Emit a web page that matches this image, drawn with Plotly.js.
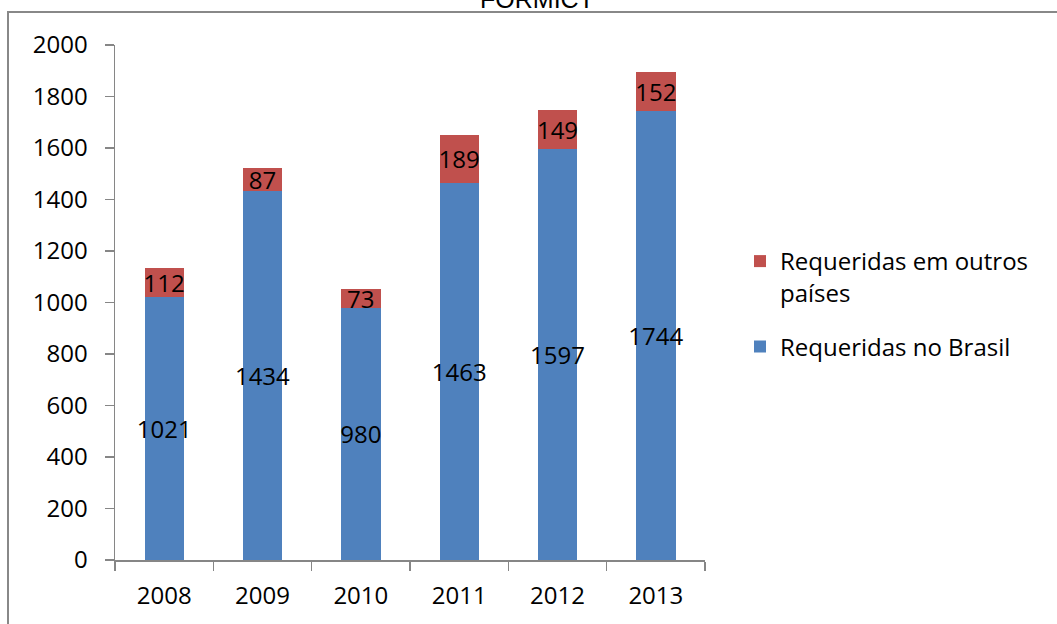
<!DOCTYPE html>
<html>
<head>
<meta charset="utf-8">
<script src="https://cdn.plot.ly/plotly-3.0.1.min.js"></script>
<style>
  html, body { margin: 0; padding: 0; background: #fff; }
  #chart { width: 1057px; height: 624px; }
</style>
</head>
<body>
<div id="chart"></div>
<script>
// Patent applications per year, split by where they were filed
const years = ['2008', '2009', '2010', '2011', '2012', '2013'];
const brasil = [1021, 1434, 980, 1463, 1597, 1744];
const exterior = [112, 87, 73, 189, 149, 152];

const seriesNames = ['Requeridas no Brasil', 'Requeridas em outros<br>países'];
const seriesColors = ['#4F81BD', '#C0504D'];
const legendRanks = [2, 1];

const FONT = '"Open Sans", Lato, sans-serif';
const AXIS_GRAY = '#868686';

const labelFont = { family: FONT, size: 24, color: '#000' };

function barTrace(values, i) {
  return {
    type: 'bar',
    x: years,
    y: values,
    name: seriesNames[i],
    legendgroup: 'g' + i,
    legendrank: legendRanks[i],
    marker: { color: seriesColors[i], line: { width: 0 } },
    text: values.map(String),
    textposition: 'inside',
    insidetextanchor: 'middle',
    textangle: 0,
    constraintext: 'none',
    textfont: labelFont,
    hoverinfo: 'skip'
  };
}

const data = [barTrace(brasil, 0), barTrace(exterior, 1)];

// page geometry used to place the legend and the outer frame
const L = 115, R = 352, T = 45, B = 64, W = 1057, H = 624;
const pw = W - L - R, ph = H - T - B;
const px = v => (v - L) / pw;
const py = v => (H - B - v) / ph;

const layout = {
  width: W,
  height: H,
  margin: { l: L, r: R, t: T, b: B, pad: 0 },
  paper_bgcolor: '#fff',
  plot_bgcolor: '#fff',
  barmode: 'stack',
  bargap: 0.6,
  showlegend: true,
  title: {
    text: 'FORMICT',
    font: { family: '"Liberation Sans", Arial, sans-serif', size: 25, color: '#000' },
    x: 537 / W,
    xref: 'container',
    xanchor: 'center',
    y: 1 - 8 / H,
    yref: 'container',
    yanchor: 'bottom'
  },
  xaxis: {
    type: 'category',
    showgrid: false,
    zeroline: false,
    showline: true,
    linecolor: AXIS_GRAY,
    linewidth: 1.5,
    ticks: 'outside',
    tickson: 'boundaries',
    ticklen: 9,
    tickwidth: 1.5,
    tickcolor: AXIS_GRAY,
    ticklabelstandoff: 14,
    tickfont: labelFont
  },
  yaxis: {
    range: [0, 2000],
    dtick: 200,
    tick0: 0,
    showgrid: false,
    zeroline: false,
    showline: true,
    linecolor: AXIS_GRAY,
    linewidth: 1.5,
    ticks: 'outside',
    ticklen: 9,
    tickwidth: 1.5,
    tickcolor: AXIS_GRAY,
    ticklabelstandoff: 12,
    tickfont: labelFont
  },
  legend: {
    x: px(740),
    xanchor: 'left',
    y: py(239),
    yanchor: 'top',
    valign: 'top',
    traceorder: 'grouped',
    font: labelFont,
    bgcolor: 'rgba(0,0,0,0)',
    borderwidth: 0,
    tracegroupgap: 20
  },
  shapes: [
    { type: 'line', xref: 'paper', yref: 'paper', x0: px(8), x1: px(8), y0: py(12), y1: py(700),
      line: { color: '#888', width: 2 } },
    { type: 'line', xref: 'paper', yref: 'paper', x0: px(7), x1: px(1100), y0: py(12), y1: py(12),
      line: { color: '#888', width: 2 } }
  ]
};

Plotly.newPlot('chart', data, layout, { displayModeBar: false, staticPlot: true });
</script>
</body>
</html>
